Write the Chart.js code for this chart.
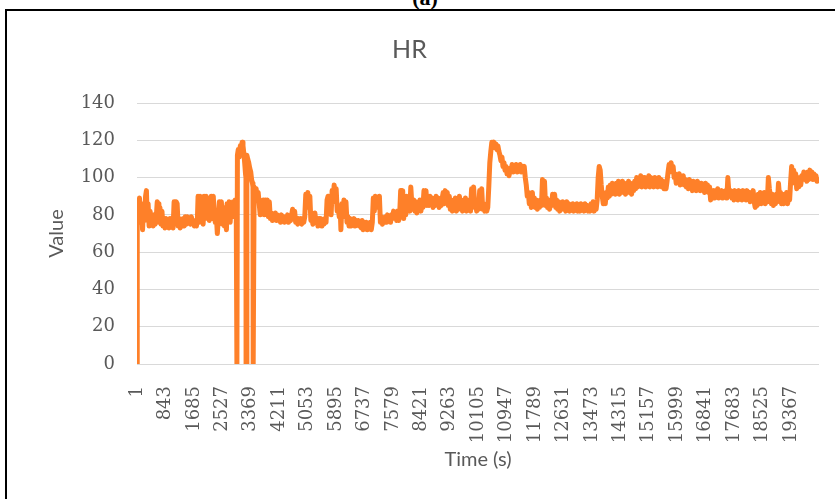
<!DOCTYPE html>
<html>
<head>
<meta charset="utf-8">
<title>HR</title>
<script src="https://cdn.jsdelivr.net/npm/chart.js"></script>
<style>
  body { margin: 0; background: #fff; }
  #wrap { position: relative; width: 835px; height: 499px; overflow: hidden; background: #fff; }
  #frame { position: absolute; left: 5px; top: 9px; width: 840px; height: 500px; border-left: 2px solid #000; border-top: 2px solid #000; }
  #panel { position: absolute; left: 0; top: -15px; width: 850px; text-align: center; font: bold 22px "Liberation Serif", serif; color: #000; }
  canvas { position: absolute; left: 0; top: 0; }
</style>
</head>
<body>
<div id="wrap">
  <div id="frame"></div>
  <div id="panel">(a)</div>
  <canvas id="hrChart" width="835" height="499"></canvas>
</div>
<script>
// time stamps (s) and heart rate
const timeS = [
  1, 8, 40, 75, 110, 140, 165, 195, 225, 255,
  280, 300, 330, 360, 390, 420, 450, 480, 510, 540,
  570, 600, 625, 650, 680, 710, 740, 770, 800, 830,
  860, 890, 920, 950, 980, 1010, 1040, 1070, 1100, 1130,
  1160, 1190, 1220, 1250, 1280, 1310, 1340, 1370, 1400, 1430,
  1460, 1490, 1520, 1550, 1580, 1610, 1640, 1670, 1700, 1730,
  1760, 1790, 1810, 1840, 1870, 1900, 1930, 1960, 1990, 2020,
  2050, 2080, 2110, 2140, 2170, 2200, 2230, 2260, 2290, 2320,
  2350, 2380, 2410, 2440, 2470, 2500, 2530, 2560, 2590, 2620,
  2650, 2670, 2700, 2730, 2760, 2790, 2820, 2850, 2880, 2910,
  2940, 2958, 2962, 2975, 3000, 3030, 3060, 3090, 3115, 3140,
  3165, 3190, 3215, 3228, 3232, 3255, 3280, 3310, 3340, 3370,
  3395, 3420, 3436, 3442, 3470, 3500, 3530, 3560, 3590, 3620,
  3650, 3680, 3710, 3740, 3770, 3800, 3830, 3860, 3890, 3920,
  3950, 3980, 4010, 4040, 4070, 4100, 4130, 4160, 4190, 4220,
  4250, 4280, 4310, 4340, 4370, 4400, 4430, 4460, 4490, 4520,
  4550, 4580, 4610, 4640, 4670, 4700, 4730, 4760, 4790, 4820,
  4850, 4880, 4910, 4940, 4970, 5000, 5030, 5060, 5090, 5120,
  5150, 5180, 5210, 5240, 5270, 5300, 5330, 5360, 5390, 5420,
  5450, 5480, 5510, 5540, 5570, 5600, 5630, 5660, 5690, 5720,
  5750, 5780, 5810, 5840, 5870, 5900, 5930, 5960, 5990, 6020,
  6040, 6070, 6100, 6130, 6160, 6190, 6220, 6250, 6280, 6310,
  6340, 6370, 6400, 6430, 6460, 6490, 6520, 6550, 6580, 6610,
  6640, 6670, 6700, 6730, 6760, 6790, 6820, 6850, 6880, 6910,
  6940, 6970, 7000, 7030, 7060, 7090, 7120, 7150, 7180, 7210,
  7240, 7270, 7300, 7330, 7360, 7390, 7420, 7450, 7480, 7510,
  7540, 7570, 7600, 7630, 7660, 7690, 7720, 7750, 7780, 7810,
  7840, 7870, 7900, 7930, 7960, 7990, 8020, 8050, 8080, 8110,
  8140, 8170, 8200, 8230, 8260, 8290, 8320, 8350, 8380, 8410,
  8440, 8470, 8500, 8530, 8560, 8590, 8620, 8650, 8680, 8710,
  8740, 8770, 8800, 8830, 8860, 8890, 8920, 8950, 8980, 9010,
  9040, 9070, 9100, 9130, 9160, 9190, 9220, 9250, 9280, 9310,
  9340, 9370, 9400, 9430, 9460, 9490, 9520, 9550, 9580, 9610,
  9640, 9670, 9700, 9730, 9760, 9790, 9820, 9850, 9880, 9910,
  9940, 9970, 10000, 10030, 10060, 10090, 10120, 10150, 10180, 10210,
  10240, 10270, 10300, 10330, 10360, 10390, 10420, 10450, 10480, 10510,
  10540, 10570, 10600, 10630, 10660, 10690, 10720, 10750, 10780, 10810,
  10840, 10870, 10900, 10930, 10960, 10990, 11020, 11050, 11080, 11110,
  11140, 11170, 11200, 11230, 11260, 11290, 11320, 11350, 11380, 11410,
  11440, 11470, 11500, 11530, 11560, 11590, 11620, 11650, 11680, 11710,
  11740, 11770, 11800, 11830, 11860, 11890, 11920, 11950, 11980, 12010,
  12040, 12070, 12100, 12130, 12160, 12190, 12220, 12250, 12280, 12310,
  12340, 12370, 12400, 12430, 12460, 12490, 12520, 12550, 12580, 12610,
  12640, 12670, 12700, 12730, 12760, 12790, 12820, 12850, 12880, 12910,
  12940, 12970, 13000, 13030, 13060, 13090, 13120, 13150, 13180, 13210,
  13240, 13270, 13300, 13330, 13360, 13390, 13420, 13450, 13480, 13510,
  13540, 13570, 13600, 13630, 13660, 13690, 13720, 13750, 13780, 13810,
  13840, 13870, 13900, 13930, 13960, 13990, 14020, 14050, 14080, 14110,
  14140, 14170, 14200, 14230, 14260, 14290, 14320, 14350, 14380, 14410,
  14440, 14470, 14500, 14530, 14560, 14590, 14620, 14650, 14680, 14710,
  14740, 14770, 14800, 14830, 14860, 14890, 14920, 14950, 14980, 15010,
  15040, 15070, 15100, 15130, 15160, 15190, 15220, 15250, 15280, 15310,
  15340, 15370, 15400, 15430, 15460, 15490, 15520, 15550, 15580, 15610,
  15640, 15670, 15700, 15730, 15760, 15790, 15820, 15850, 15880, 15910,
  15940, 15970, 16000, 16030, 16060, 16090, 16120, 16150, 16180, 16210,
  16240, 16270, 16300, 16330, 16360, 16390, 16420, 16450, 16480, 16510,
  16540, 16570, 16600, 16630, 16660, 16690, 16720, 16750, 16780, 16810,
  16840, 16870, 16900, 16930, 16960, 16990, 17020, 17050, 17080, 17110,
  17140, 17170, 17200, 17230, 17260, 17290, 17320, 17350, 17380, 17410,
  17440, 17470, 17500, 17530, 17560, 17590, 17620, 17650, 17680, 17710,
  17740, 17770, 17800, 17830, 17860, 17890, 17920, 17950, 17980, 18010,
  18040, 18070, 18100, 18130, 18160, 18190, 18220, 18250, 18280, 18310,
  18340, 18370, 18400, 18430, 18460, 18490, 18520, 18550, 18580, 18610,
  18640, 18670, 18700, 18730, 18760, 18790, 18820, 18850, 18880, 18910,
  18940, 18970, 19000, 19030, 19060, 19090, 19120, 19150, 19180, 19210,
  19240, 19270, 19300, 19330, 19360, 19390, 19420, 19450, 19480, 19510,
  19540, 19570, 19600, 19630, 19660, 19690, 19720, 19750, 19780, 19810,
  19840, 19870, 19900, 19930, 19960, 19990, 20020, 20050, 20080, 20110,
  20140, 20170, 20200
];

const hrValues = [
  0, 88, 78, 89, 76, 86, 72, 84, 77, 90,
  93, 80, 86, 74, 82, 75, 79, 74, 80, 75,
  78, 87, 86, 76, 84, 75, 82, 74, 78, 73,
  78, 74, 77, 73, 78, 74, 77, 73, 87, 80,
  87, 86, 74, 78, 73, 77, 74, 78, 74, 79,
  75, 79, 76, 78, 75, 79, 76, 77, 74, 77,
  74, 78, 90, 76, 90, 77, 89, 75, 90, 78,
  90, 79, 85, 77, 84, 90, 78, 90, 80, 76,
  80, 70, 78, 87, 79, 87, 75, 83, 74, 84,
  72, 86, 78, 87, 76, 86, 79, 87, 80, 88,
  84, 88, 0, 112, 115, 111, 117, 116, 119, 117,
  113, 108, 102, 100, 0, 112, 110, 108, 105, 103,
  99, 97, 95, 0, 95, 92, 94, 89, 92, 86,
  80, 87, 81, 88, 80, 88, 82, 88, 79, 87,
  78, 81, 77, 80, 78, 81, 77, 80, 78, 79,
  76, 80, 77, 79, 76, 79, 77, 80, 76, 78,
  77, 80, 83, 78, 82, 76, 78, 75, 78, 76,
  78, 75, 78, 76, 79, 91, 84, 92, 86, 90,
  77, 79, 75, 78, 81, 76, 78, 74, 78, 75,
  78, 74, 77, 75, 78, 76, 88, 90, 84, 89,
  80, 93, 87, 96, 90, 94, 82, 85, 79, 83,
  72, 86, 80, 88, 79, 87, 76, 79, 74, 78,
  74, 77, 75, 78, 74, 77, 75, 77, 74, 76,
  73, 77, 72, 76, 73, 76, 72, 75, 73, 76,
  72, 76, 89, 82, 90, 84, 89, 85, 90, 76,
  79, 75, 78, 76, 79, 76, 80, 77, 79, 76,
  80, 78, 82, 79, 81, 77, 82, 77, 80, 93,
  86, 93, 78, 88, 80, 90, 83, 86, 82, 95,
  86, 83, 88, 82, 87, 81, 86, 83, 88, 82,
  86, 84, 93, 87, 93, 85, 89, 85, 90, 86,
  89, 84, 88, 85, 90, 86, 89, 84, 88, 85,
  89, 92, 86, 93, 88, 92, 85, 90, 83, 88,
  82, 87, 84, 89, 82, 86, 83, 90, 84, 88,
  82, 87, 83, 89, 82, 86, 83, 88, 82, 94,
  84, 95, 86, 88, 82, 87, 83, 93, 85, 94,
  83, 86, 82, 85, 82, 84, 95, 108, 114, 119,
  117, 119, 116, 118, 115, 117, 114, 112, 109, 111,
  106, 108, 104, 106, 102, 104, 101, 105, 103, 107,
  103, 106, 104, 107, 103, 106, 104, 107, 103, 106,
  104, 106, 100, 96, 90, 92, 86, 89, 84, 92,
  85, 89, 84, 88, 83, 87, 84, 88, 85, 99,
  90, 98, 85, 89, 84, 88, 83, 87, 85, 91,
  86, 91, 84, 88, 83, 87, 82, 86, 83, 87,
  83, 86, 82, 87, 83, 86, 82, 85, 83, 86,
  82, 85, 83, 86, 82, 85, 82, 86, 83, 85,
  82, 86, 83, 85, 82, 84, 82, 86, 83, 87,
  82, 86, 83, 88, 100, 106, 104, 96, 90, 86,
  88, 86, 92, 89, 95, 90, 96, 91, 97, 92,
  96, 91, 97, 92, 98, 91, 96, 93, 98, 92,
  97, 91, 96, 93, 98, 92, 97, 91, 96, 93,
  98, 94, 100, 95, 99, 96, 101, 95, 100, 96,
  100, 95, 99, 96, 101, 95, 100, 96, 99, 95,
  100, 96, 99, 95, 100, 96, 99, 95, 98, 94,
  97, 94, 98, 103, 107, 104, 108, 103, 106, 100,
  102, 97, 101, 98, 102, 96, 100, 97, 101, 96,
  99, 95, 98, 94, 99, 95, 97, 93, 98, 94,
  97, 93, 98, 94, 97, 93, 97, 94, 96, 92,
  97, 93, 96, 92, 95, 88, 93, 89, 93, 89,
  93, 90, 94, 89, 92, 90, 93, 89, 92, 90,
  93, 89, 100, 92, 90, 93, 89, 92, 88, 93,
  89, 92, 88, 93, 89, 92, 88, 93, 90, 92,
  88, 93, 89, 92, 87, 92, 88, 93, 87, 84,
  90, 85, 91, 87, 92, 86, 90, 87, 92, 86,
  91, 87, 100, 94, 90, 86, 91, 85, 90, 86,
  91, 87, 97, 90, 92, 86, 90, 86, 91, 87,
  92, 86, 91, 88, 98, 106, 100, 104, 97, 102,
  94, 99, 95, 100, 96, 101, 99, 103, 99, 102,
  98, 103, 99, 104, 100, 103, 99, 102, 100, 101,
  98, 99, 97
];

const yTicks = [0, 20, 40, 60, 80, 100, 120, 140];
const xTickLabels = [1, 843, 1685, 2527, 3369, 4211, 5053, 5895, 6737, 7579, 8421, 9263,
  10105, 10947, 11789, 12631, 13473, 14315, 15157, 15999, 16841, 17683, 18525, 19367];

const GREY = '#595959';
const tickFont = { family: 'DejaVu Serif', size: 18 };
const labelFont = { family: 'Lato', size: 20 };

const points = timeS.map((t, i) => ({ x: t, y: hrValues[i] }));

new Chart(document.getElementById('hrChart'), {
  type: 'line',
  data: {
    datasets: [{
      label: 'HR',
      data: points,
      borderColor: '#FE8029',
      borderWidth: 5,
      borderJoinStyle: 'round',
      pointRadius: 0,
      tension: 0,
      fill: false
    }]
  },
  options: {
    responsive: false,
    animation: false,
    layout: { padding: { left: 0, right: 16, top: 0, bottom: 0 } },
    plugins: {
      legend: { display: false },
      tooltip: { enabled: false },
      title: {
        display: true,
        text: 'HR',
        color: GREY,
        font: { family: 'Lato', size: 25, weight: 'normal' },
        padding: { top: 35, bottom: 38 }
      }
    },
    scales: {
      x: {
        type: 'linear',
        min: 1,
        max: 20200,
        afterBuildTicks: s => { s.ticks = xTickLabels.map(v => ({ value: v })); },
        afterFit: s => { s.height = 135; },
        grid: { display: false },
        border: { display: false },
        ticks: {
          autoSkip: false,
          minRotation: 90,
          maxRotation: 90,
          padding: 14,
          color: GREY,
          font: tickFont,
          callback: v => String(v)
        },
        title: { display: true, text: 'Time (s)', color: GREY, font: labelFont, padding: { top: 0, bottom: 27 } }
      },
      y: {
        min: 0,
        max: 140,
        afterBuildTicks: s => { s.ticks = yTicks.map(v => ({ value: v })); },
        afterFit: s => { s.width = 137; },
        grid: { color: '#d9d9d9', lineWidth: 1, drawTicks: false },
        border: { display: false },
        ticks: { padding: 22, color: GREY, font: tickFont },
        title: { display: true, text: 'Value', color: GREY, font: labelFont, padding: { top: 45, bottom: 0 } }
      }
    }
  }
});
</script>
</body>
</html>
